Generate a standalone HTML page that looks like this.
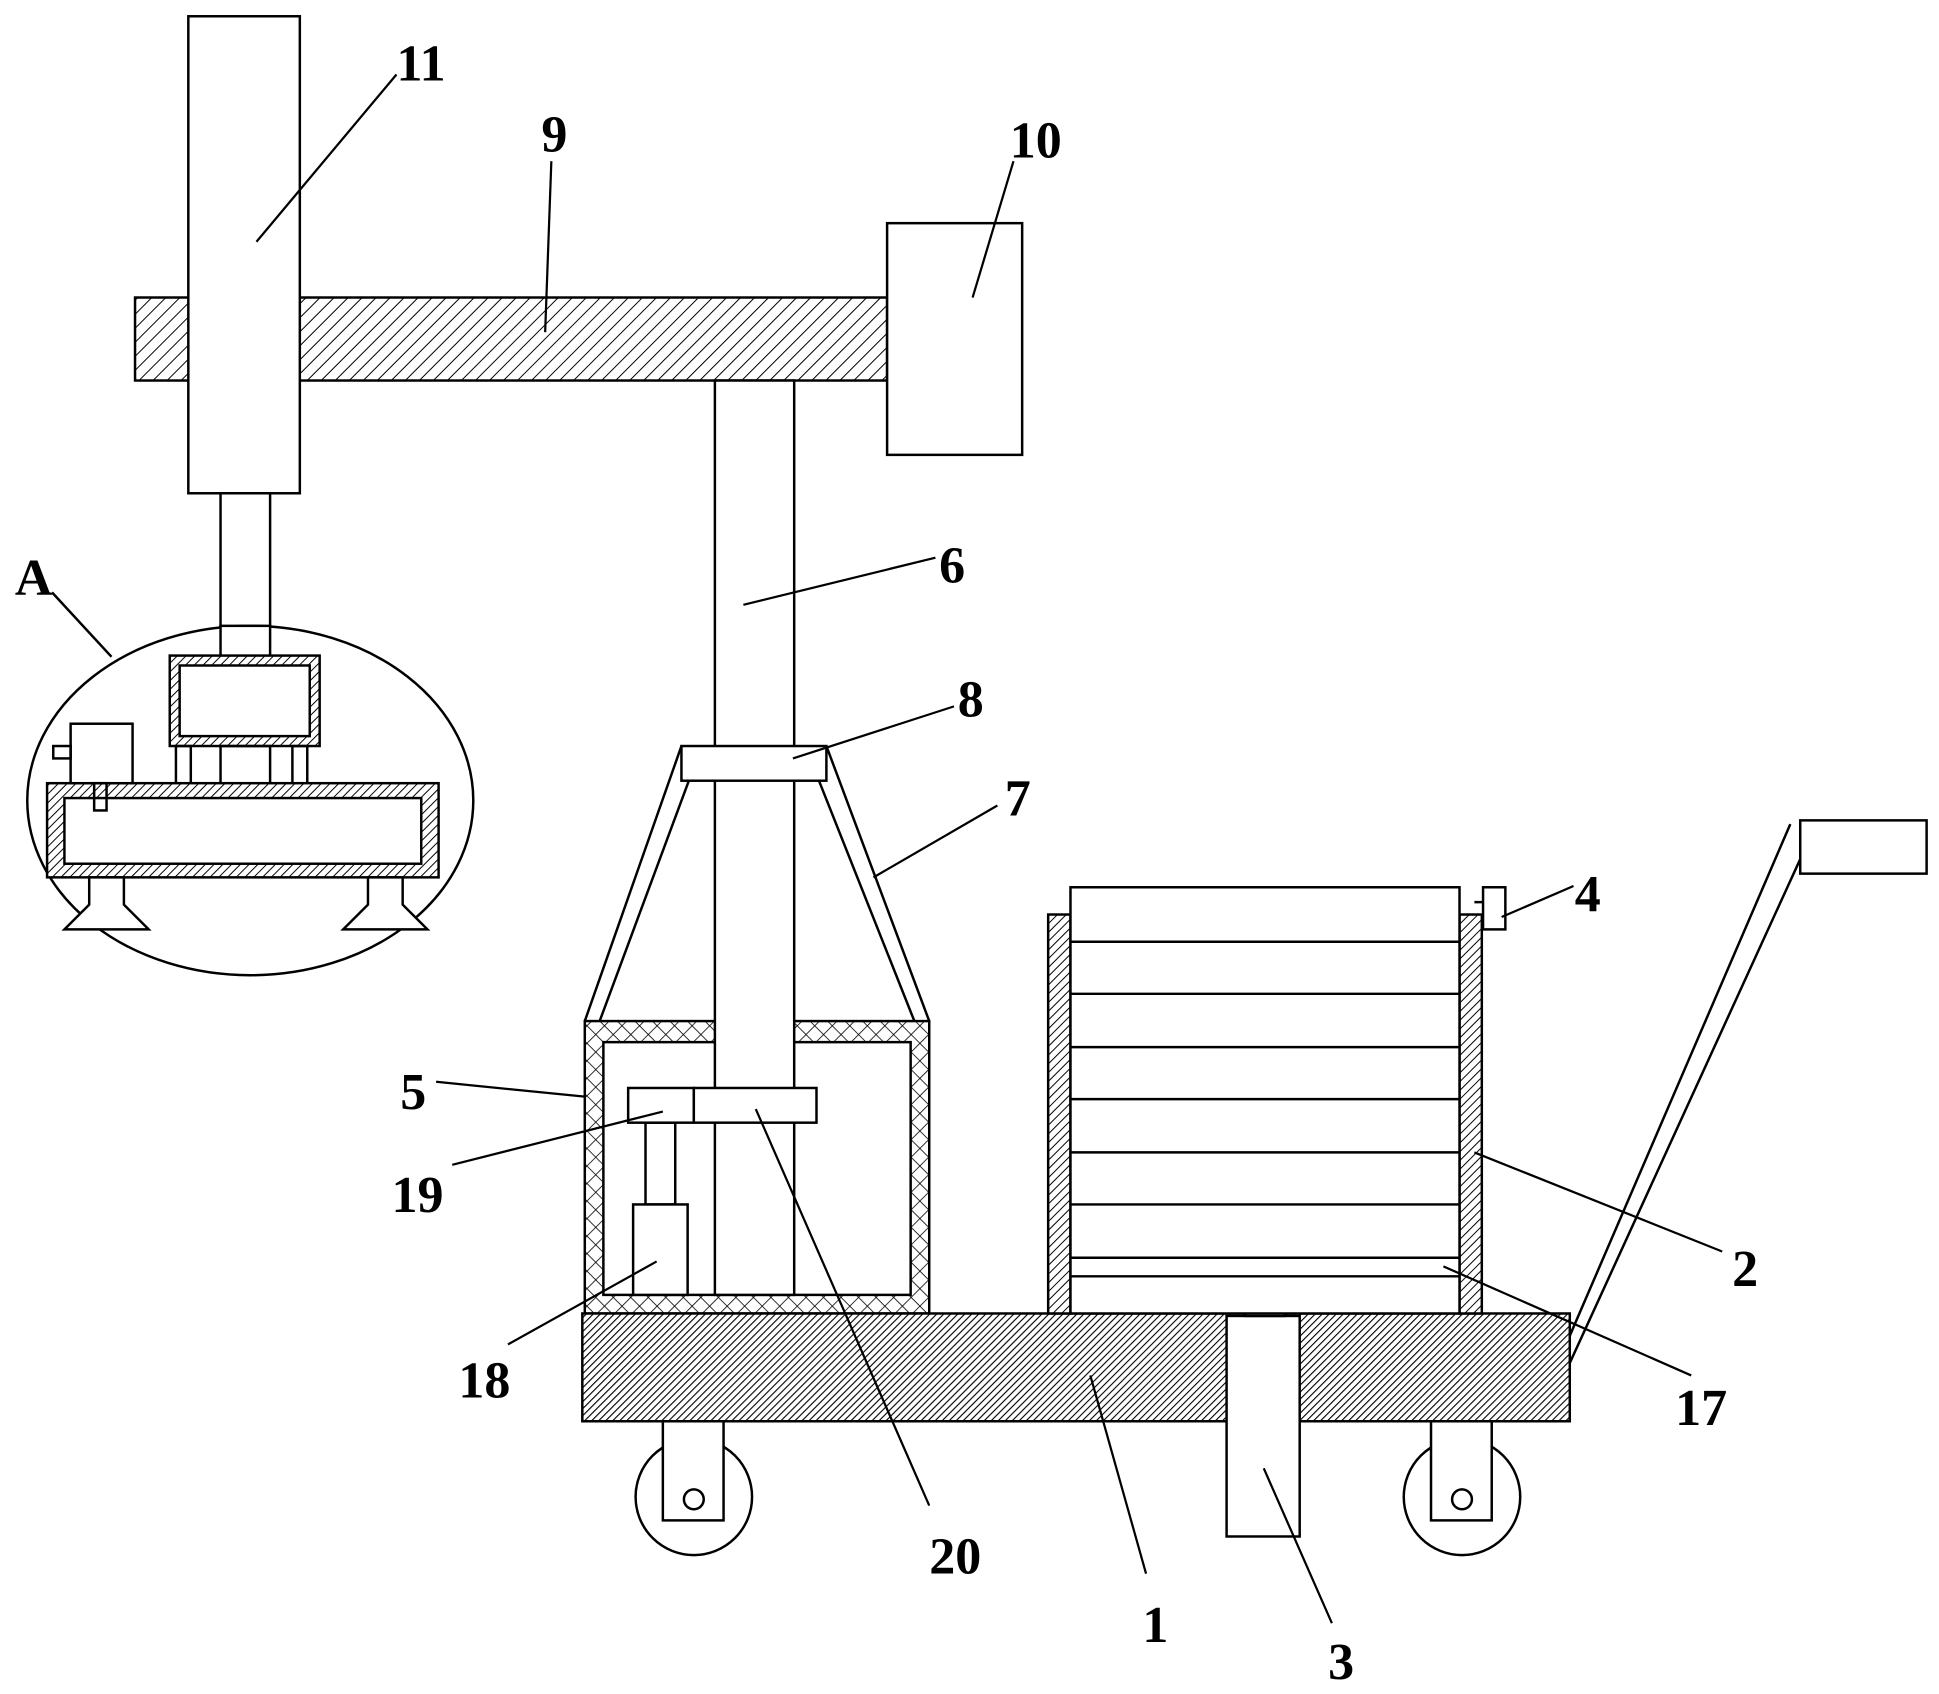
<!DOCTYPE html>
<html><head><meta charset="utf-8"><style>
html,body{margin:0;padding:0;background:#fff;}
svg{display:block}
text{font-family:"Liberation Serif",serif;font-weight:bold;font-size:42px;fill:#000}
</style></head><body>
<svg width="1939" height="1694" viewBox="0 0 1565 1367" xmlns="http://www.w3.org/2000/svg">
<defs>
<pattern id="h" width="8" height="8" patternUnits="userSpaceOnUse" patternTransform="rotate(45)"><rect width="8" height="8" fill="#fff"/><line x1="0" y1="0" x2="0" y2="8" stroke="#000" stroke-width="1.6"/></pattern>
<pattern id="hd" width="5" height="5" patternUnits="userSpaceOnUse" patternTransform="rotate(45)"><rect width="5" height="5" fill="#fff"/><line x1="0" y1="0" x2="0" y2="5" stroke="#000" stroke-width="1.6"/></pattern>
<pattern id="hb" width="4" height="4" patternUnits="userSpaceOnUse" patternTransform="rotate(45)"><rect width="4" height="4" fill="#fff"/><line x1="0" y1="0" x2="0" y2="4" stroke="#000" stroke-width="1.8"/></pattern>
<pattern id="x" width="10" height="10" patternUnits="userSpaceOnUse" patternTransform="rotate(45)"><rect width="10" height="10" fill="#fff"/><line x1="0" y1="0" x2="0" y2="10" stroke="#000" stroke-width="1.3"/><line x1="0" y1="0" x2="10" y2="0" stroke="#000" stroke-width="1.3"/></pattern>
</defs>
<g fill="none" stroke="#000" stroke-width="2">
<rect x="109" y="240" width="607" height="67" fill="url(#h)"/>
<rect x="152" y="13" width="90" height="385" fill="#fff"/>
<rect x="716" y="180" width="109" height="187" fill="#fff"/>
<rect x="178" y="398" width="40" height="132" fill="#fff"/>
<ellipse cx="202" cy="646" rx="180" ry="141" fill="#fff"/>
<rect x="178" y="505" width="40" height="25" fill="#fff"/>
<rect x="137" y="529" width="121" height="73" fill="url(#hd)"/>
<rect x="145" y="537" width="105" height="57" fill="#fff"/>
<rect x="142" y="602" width="12" height="32"/><rect x="236" y="602" width="12" height="32"/>
<rect x="178" y="602" width="40" height="32"/>
<rect x="38" y="632" width="316" height="76" fill="url(#hd)"/>
<rect x="52" y="644" width="288" height="53" fill="#fff"/>
<rect x="57" y="584" width="50" height="48" fill="#fff"/>
<rect x="43" y="602" width="14" height="10"/>
<rect x="76" y="632" width="10" height="22"/>
<path d="M72 708 V730 L52 750 H120 L100 730 V708 Z" fill="#fff"/>
<path d="M297 708 V730 L277 750 H345 L325 730 V708 Z" fill="#fff"/>
<line x1="42" y1="478" x2="90" y2="530"/>
<path d="M550 602 L472 824 M556 630 L484 824 M667 602 L750 824 M661 630 L738 824"/>
<rect x="472" y="824" width="278" height="236" fill="url(#x)"/>
<rect x="487" y="841" width="248" height="204" fill="#fff"/>
<rect x="577" y="307" width="64" height="738" fill="#fff"/>
<rect x="550" y="602" width="117" height="28" fill="#fff"/>
<rect x="521" y="906" width="24" height="66" fill="#fff"/>
<rect x="511" y="972" width="44" height="73" fill="#fff"/>
<rect x="507" y="878" width="53" height="28" fill="#fff"/>
<rect x="560" y="878" width="99" height="28" fill="#fff"/>
<rect x="470" y="1060" width="797" height="87" fill="url(#hb)"/>
<circle cx="560" cy="1208" r="47" fill="#fff"/><rect x="535" y="1147" width="49" height="80" fill="#fff"/><circle cx="560" cy="1210" r="8"/>
<circle cx="1180" cy="1208" r="47" fill="#fff"/><rect x="1155" y="1147" width="49" height="80" fill="#fff"/><circle cx="1180" cy="1210" r="8"/>
<rect x="990" y="1062" width="59" height="178" fill="#fff"/>
<rect x="1005" y="1032" width="32" height="30" fill="#fff"/>
<rect x="846" y="738" width="18" height="322" fill="url(#hd)"/>
<rect x="1178" y="738" width="18" height="322" fill="url(#hd)"/>
<rect x="864" y="716" width="314" height="344" fill="#fff"/>
<path d="M864 760 H1178 M864 802 H1178 M864 845 H1178 M864 887 H1178 M864 930 H1178 M864 972 H1178 M864 1015 H1178 M864 1030 H1178"/>
<rect x="1197" y="716" width="18" height="34" fill="#fff"/><line x1="1190" y1="728" x2="1197" y2="728"/>
<path d="M1267 1078 L1445 665 M1267 1100 L1460 678"/>
<rect x="1453" y="662" width="102" height="43" fill="#fff"/>
<path stroke-width="1.8" d="M320 60 L207 195 M445 130 L440 268 M818 130 L785 240 M755 450 L600 488 M770 570 L640 612 M805 650 L705 708 M1270 715 L1212 740 M352 873 L472 885 M365 940 L535 897 M1390 1010 L1190 930 M1365 1110 L1165 1022 M410 1085 L530 1018 M750 1215 L610 895 M925 1270 L880 1110 M1075 1310 L1020 1185"/>
</g>
<text x="320" y="65">11</text>
<text x="437" y="122">9</text>
<text x="815" y="127">10</text>
<text x="758" y="470">6</text>
<text x="773" y="578">8</text>
<text x="811" y="658">7</text>
<text x="1271" y="735">4</text>
<text x="323" y="895">5</text>
<text x="316" y="978">19</text>
<text x="1398" y="1038">2</text>
<text x="1352" y="1150">17</text>
<text x="370" y="1128">18</text>
<text x="750" y="1270">20</text>
<text x="922" y="1325">1</text>
<text x="1072" y="1355">3</text>
<text x="12" y="480">A</text>
</svg>
</body></html>
